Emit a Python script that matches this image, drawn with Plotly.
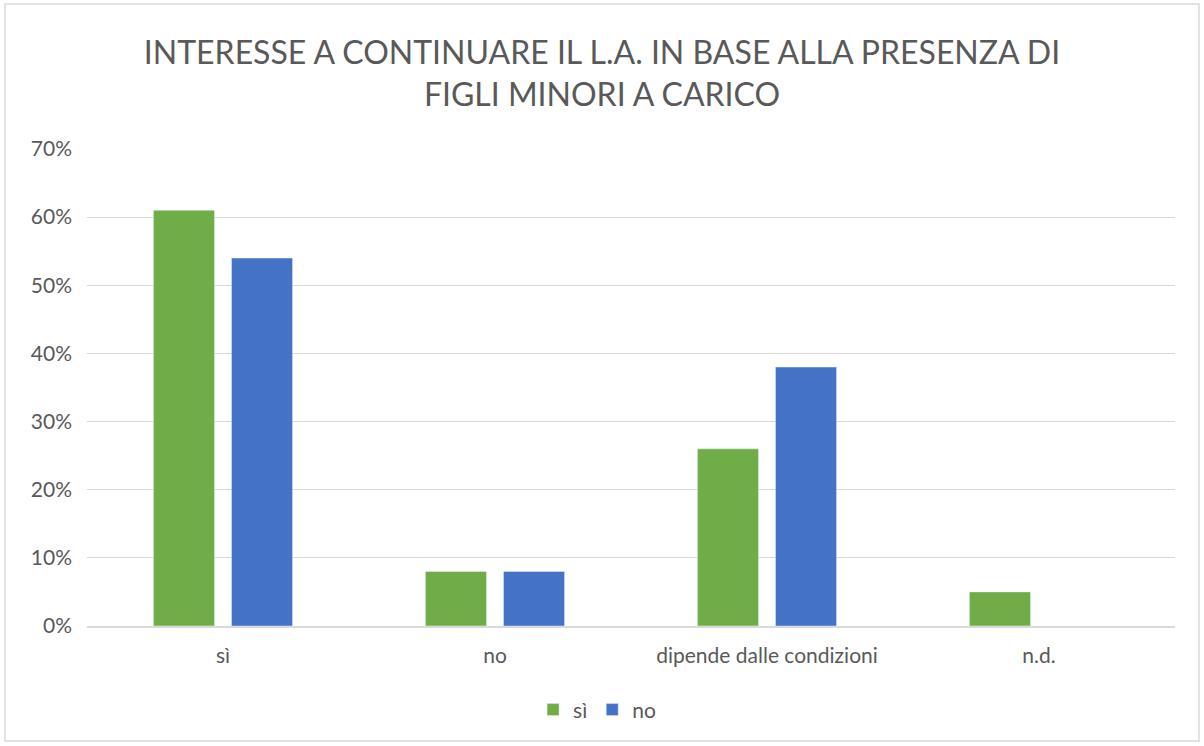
import plotly.graph_objects as go

categories = ["sì", "no", "dipende dalle condizioni", "n.d."]
si_values = [0.61, 0.08, 0.26, 0.05]
no_values = [0.54, 0.08, 0.38, None]
y_ticks = [0, 0.1, 0.2, 0.3, 0.4, 0.5, 0.6, 0.7]

GRAY = "#595959"
FONT = "Lato"

fig = go.Figure()
fig.add_trace(go.Bar(x=categories, y=si_values, name="sì", marker=dict(color="#70AD47")))
fig.add_trace(go.Bar(x=categories, y=no_values, name="no", marker=dict(color="#4472C4")))

fig.update_layout(
    width=1204, height=746,
    margin=dict(l=87, r=29, t=149, b=120),
    paper_bgcolor="white", plot_bgcolor="white",
    font=dict(family=FONT, color=GRAY, size=21),
    title=dict(
        text="INTERESSE A CONTINUARE IL L.A. IN BASE ALLA PRESENZA DI<br>FIGLI MINORI A CARICO",
        x=0.5, xanchor="center", y=0.914, yanchor="middle",
        font=dict(family=FONT, size=32, color=GRAY),
    ),
    barmode="group", bargap=0.426, bargroupgap=0.218,
    xaxis=dict(showline=True, linecolor="#d9d9d9", linewidth=2, ticks="",
               ticklabelstandoff=10, tickfont=dict(size=21, color=GRAY)),
    yaxis=dict(range=[0, 0.7], tickvals=y_ticks, tickformat=".0%",
               showgrid=True, gridcolor="#d9d9d9", gridwidth=1, zeroline=False,
               ticklabelstandoff=14, tickfont=dict(size=21, color=GRAY)),
    legend=dict(orientation="h", x=0.41, xanchor="left", y=-0.176, yanchor="middle",
                font=dict(size=21, color=GRAY), itemwidth=30),
    shapes=[dict(type="rect", xref="paper", yref="paper",
                 x0=-0.0754, x1=1.022, y0=-0.241, y1=1.304,
                 line=dict(color="#d9d9d9", width=1.5), layer="below")],
)

fig.write_html("out.html", config={"displayModeBar": False},
               post_script="document.body.style.margin='0';")
